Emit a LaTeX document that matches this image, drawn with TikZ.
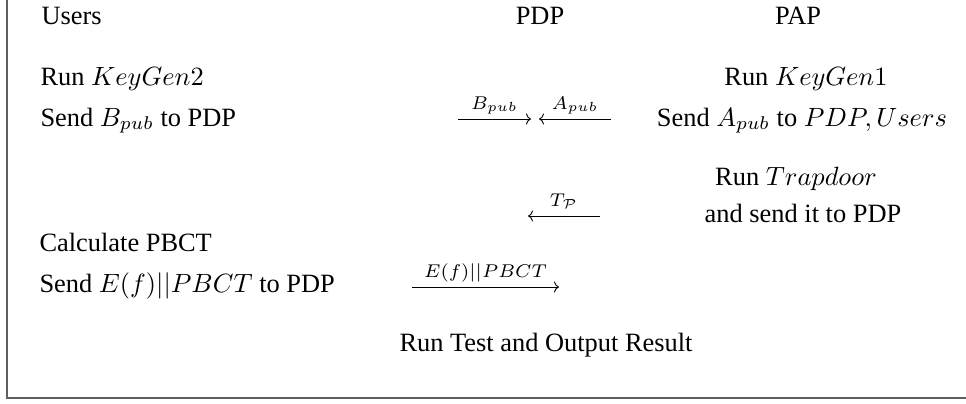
\documentclass[tikz,border=0pt]{standalone}
\usepackage[no-math]{fontspec}
\setmainfont{Liberation Serif}
\usetikzlibrary{arrows.meta}
\definecolor{framegray}{RGB}{95,95,95}
\begin{document}
\begin{tikzpicture}[x=1pt,y=-1pt,
  txt/.style={inner sep=0pt, scale=2.64},
  msg/.style={line width=0.9pt, -{Computer Modern Rightarrow[length=5pt,width=11pt]}},
  lbl/.style={midway, anchor=base, yshift=10pt, inner sep=0pt, scale=2.64},
  frameline/.style={draw=framegray, line width=1.6pt}]
\useasboundingbox (0,0) rectangle (966,404);
% frame
\coordinate (ftop) at (7,0);
\coordinate (fcorner) at (7,398);
\coordinate (fright) at (966,398);
\draw[frameline] (ftop) -- (fcorner) -- (fright);
% headers
\node[txt, anchor=base west] (users) at (41,25) {Users};
\node[txt, anchor=base] (pdp) at (540,25) {PDP};
\node[txt, anchor=base] (pap) at (798,25) {PAP};
% users column
\node[txt, anchor=base west] (kg2) at (40,85) {Run $KeyGen2$};
\node[txt, anchor=base west] (sendb) at (40,126) {Send $B_{pub}$ to PDP};
\node[txt, anchor=base west] (calc) at (39,251) {Calculate PBCT};
\node[txt, anchor=base west] (sende) at (39,292) {Send $E(f)||PBCT$ to PDP};
% PAP column
\node[txt, anchor=base] (kg1) at (806,85) {Run $KeyGen1$};
\node[txt, anchor=base] (senda) at (802,126) {Send $A_{pub}$ to $PDP,Users$};
\node[txt, anchor=base] (trap) at (796,185) {Run $Trapdoor$};
\node[txt, anchor=base] (andsend) at (803,222) {and send it to PDP};
% PDP result
\node[txt, anchor=base] (test) at (546,351) {Run Test and Output Result};
% arrows
\coordinate (b1) at (458,119); \coordinate (b2) at (531,119);
\coordinate (a1) at (611,119); \coordinate (a2) at (539,119);
\coordinate (t1) at (600,216); \coordinate (t2) at (528,216);
\coordinate (e1) at (412,287); \coordinate (e2) at (559,287);
\draw[msg] (b1) -- node[lbl] {$\scriptstyle B_{pub}$} (b2);
\draw[msg] (a1) -- node[lbl] {$\scriptstyle A_{pub}$} (a2);
\draw[msg] (t1) -- node[lbl] {$\scriptstyle T_{\mathcal{P}}$} (t2);
\draw[msg] (e1) -- node[lbl] {$\scriptstyle E(f)||PBCT$} (e2);
\end{tikzpicture}
\end{document}
